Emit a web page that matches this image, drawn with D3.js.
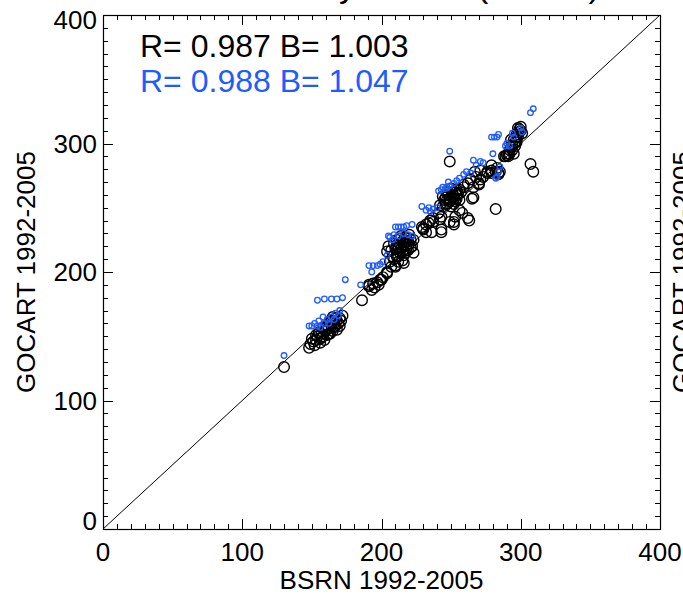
<!DOCTYPE html>
<html>
<head>
<meta charset="utf-8">
<script src="https://cdn.jsdelivr.net/npm/d3@7"></script>
<style>
  html, body { margin: 0; padding: 0; background: #fff; }
  svg { display: block; }
  text { font-family: "Liberation Sans", Arial, Helvetica, sans-serif; fill: #000; }
</style>
</head>
<body>
<svg id="chart" width="683" height="595"></svg>
<script>
// Axis ranges and tick values
const axisDomain = [0, 400];
const majorTicks = [0, 100, 200, 300, 400];
const minorStep = 10;

// Text shown on the chart
const titleText = "Monthly Means (W m-2)";
const xTitle = "BSRN 1992-2005";
const yTitle = "GOCART 1992-2005";
const statsBlack = "R= 0.987 B= 1.003";
const statsBlue = "R= 0.988 B= 1.047";

// Series: [BSRN, GOCART] pairs
const blackSeries = [
  [130,126],
  [148,141],[149,144],[151,146],[153,147],[156,148],[158,150],[161,151],[163,152],[152,143],[156,145],[159,147],[165,154],[168,155],
  [150,148],[154,150],[157,152],[160,154],[162,156],[164,158],[166,160],[168,162],[170,164],[167,158],[163,161],[170,158],[172,166],[158,157],[165,165],
  [155,153],[157,149],[160,156],[162,152],[166,157],[169,160],[171,162],[161,158],[164,162],[167,164],[153,151],
  [186,178],
  [191,189],[194,191],[197,192],[199,194],[193,186],[191,190],[195,188],[198,190],
  [200,194],[204,199],[201,196],[204,200],[207,204],[210,205],[212,208],[215,209],[211,212],[213,215],[208,212],[216,207],
  [211,225],[213,222],[216,220],[218,221],[221,225],[210,218],[207,217],[215,216],[217,215],[212,212],[210,204],
  [205,220],[204,216],[223,215],[222,220],[220,222],[223,225],[219,217],[214,228],[218,226],[209,222],[212,219],[217,223],[220,229],
  [213,226],[215,224],[217,227],[211,221],[214,218],[219,224],[216,213],[218,218],[221,219],[206,208],[209,210],
  [232,231],[236,231],[243,231],
  [241,246],[243,243],[237,242],[235,240],[232,237],[229,235],[230,233],[243,233],[252,237],[253,243],[249,239],[237,239],[234,238],[230,234],[242,241],[252,239],
  [249,286],[282,249],[263,240],[262,242],
  [266,258],[265,257],[258,246],[256,248],
  [276,278],[279,279],[283,281],[285,278],[284,276],[271,279],[268,274],[264,272],[270,268],[279,283],[279,277],[282,278],[284,277],[276,277],[273,274],[271,272],[267,278],[270,269],[266,266],[262,269],[259,266],
  [259,268],[256,264],[254,260],[252,257],[249,255],[247,253],[250,251],[244,251],[244,259],[248,260],[252,259],[254,257],[256,256],[246,253],[242,252],[252,253],[255,261],[248,262],[251,258],[245,256],[250,265],
  [249,257],[251,262],[253,255],[247,256],[250,259],[253,262],[246,258],[254,264],[257,262],
  [298,312],[301,308],[297,305],[296,301],[294,299],[292,295],[290,291],[291,290],[300,313],[299,309],[298,305],[297,301],[296,298],[294,295],[292,292],[295,292],[289,290],[288,290],[291,292],[293,303],[300,310],
  [299,311],[297,307],[295,303],[293,297],
  [307,284],[309,278]
];

const blueSeries = [
  [130,135],
  [148,158],[150,158],[154,158],[156,157],[152,160],[155,162],[159,160],[161,163],[164,165],[167,168],[170,170],[158,165],[162,160],[166,163],[169,166],
  [154,178],[159,179],[164,179],[168,179],[172,180],
  [174,194],
  [185,190],
  [191,205],[194,205],[197,205],[199,206],[201,208],[204,213],[193,200],
  [205,228],[209,229],[212,228],[216,230],[219,229],[222,228],[206,227],[208,225],
  [210,235],[212,235],[214,235],[216,235],[218,236],[222,237],
  [229,251],[234,250],[237,249],[240,250],[232,248],[235,247],
  [241,263],[243,264],[244,266],[247,266],[249,267],[248,270],[246,265],
  [252,269],[254,271],[256,273],[259,276],[261,278],[264,277],[249,294],
  [266,287],[271,286],[273,285],[268,283],[280,292],[282,273],[283,274],[285,282],[284,278],
  [279,305],[281,305],[283,305],[284,307],
  [294,308],[300,312],[301,309],[295,305],[290,300],[292,298],[289,298],
  [307,324],[309,327]
];

const blue = "#1f5cff";

const svg = d3.select("#chart");
const plot = { left: 103, right: 660, top: 15, bottom: 529 };

const x = d3.scaleLinear().domain(axisDomain).range([plot.left, plot.right]);
const y = d3.scaleLinear().domain(axisDomain).range([plot.bottom, plot.top]);

const minorTicks = d3.range(axisDomain[0], axisDomain[1] + 0.001, minorStep)
  .filter(v => !majorTicks.includes(v));

// Title sits above the frame and is mostly outside the view
svg.append("text")
  .attr("x", 237).attr("y", -3)
  .attr("font-size", 34)
  .text(titleText);

// Inward ticks on all four sides
function drawTicks(values, len) {
  const g = svg.append("g").attr("stroke", "#000").attr("stroke-width", 1);
  values.forEach(v => {
    const px = Math.round(x(v)) + 0.5, py = Math.round(y(v)) + 0.5;
    g.append("line").attr("x1", px).attr("x2", px).attr("y1", plot.bottom).attr("y2", plot.bottom - len);
    g.append("line").attr("x1", px).attr("x2", px).attr("y1", plot.top).attr("y2", plot.top + len);
    g.append("line").attr("y1", py).attr("y2", py).attr("x1", plot.left).attr("x2", plot.left + len);
    g.append("line").attr("y1", py).attr("y2", py).attr("x1", plot.right).attr("x2", plot.right - len);
  });
}
drawTicks(minorTicks, 5);
drawTicks(majorTicks, 10);

// Frame
svg.append("rect")
  .attr("x", plot.left + 0.5).attr("y", plot.top + 0.5)
  .attr("width", plot.right - plot.left).attr("height", plot.bottom - plot.top)
  .attr("fill", "none").attr("stroke", "#000").attr("stroke-width", 1.2);

// One-to-one line
svg.append("line")
  .attr("x1", x(0)).attr("y1", y(0)).attr("x2", x(400)).attr("y2", y(400))
  .attr("stroke", "#000").attr("stroke-width", 1);

// Tick labels; the end labels are nudged inside the frame
const labelSize = 26;
svg.append("g").selectAll("text").data(majorTicks).join("text")
  .attr("x", d => x(d)).attr("y", plot.bottom + 32)
  .attr("text-anchor", "middle").attr("font-size", labelSize)
  .text(d => d);
const yShift = d => d === 0 ? -8 : d === 400 ? 5 : 0;
svg.append("g").selectAll("text").data(majorTicks).join("text")
  .attr("x", plot.left - 6).attr("y", d => y(d) + 9 + yShift(d))
  .attr("text-anchor", "end").attr("font-size", labelSize)
  .text(d => d);

// Axis titles
svg.append("text")
  .attr("x", (plot.left + plot.right) / 2).attr("y", 589)
  .attr("text-anchor", "middle").attr("font-size", 26)
  .text(xTitle);
svg.append("text")
  .attr("transform", `translate(35,${(plot.top + plot.bottom) / 2}) rotate(-90)`)
  .attr("text-anchor", "middle").attr("font-size", 26)
  .text(yTitle);
// Axis title of the neighbouring panel, clipped by the page edge
svg.append("text")
  .attr("transform", `translate(691,${(plot.top + plot.bottom) / 2}) rotate(-90)`)
  .attr("text-anchor", "middle").attr("font-size", 26)
  .text(yTitle);

// Markers
svg.append("g").selectAll("circle").data(blackSeries).join("circle")
  .attr("cx", d => x(d[0])).attr("cy", d => y(d[1])).attr("r", 5.3)
  .attr("fill", "none").attr("stroke", "#000").attr("stroke-width", 1.4);
svg.append("g").selectAll("circle").data(blueSeries).join("circle")
  .attr("cx", d => x(d[0])).attr("cy", d => y(d[1])).attr("r", 2.8)
  .attr("fill", "none").attr("stroke", blue).attr("stroke-width", 1.3);

// Statistics
svg.append("text").attr("x", 140).attr("y", 57).attr("font-size", 32).text(statsBlack);
svg.append("text").attr("x", 140).attr("y", 92).attr("font-size", 32)
  .style("fill", blue).text(statsBlue);
</script>
</body>
</html>
